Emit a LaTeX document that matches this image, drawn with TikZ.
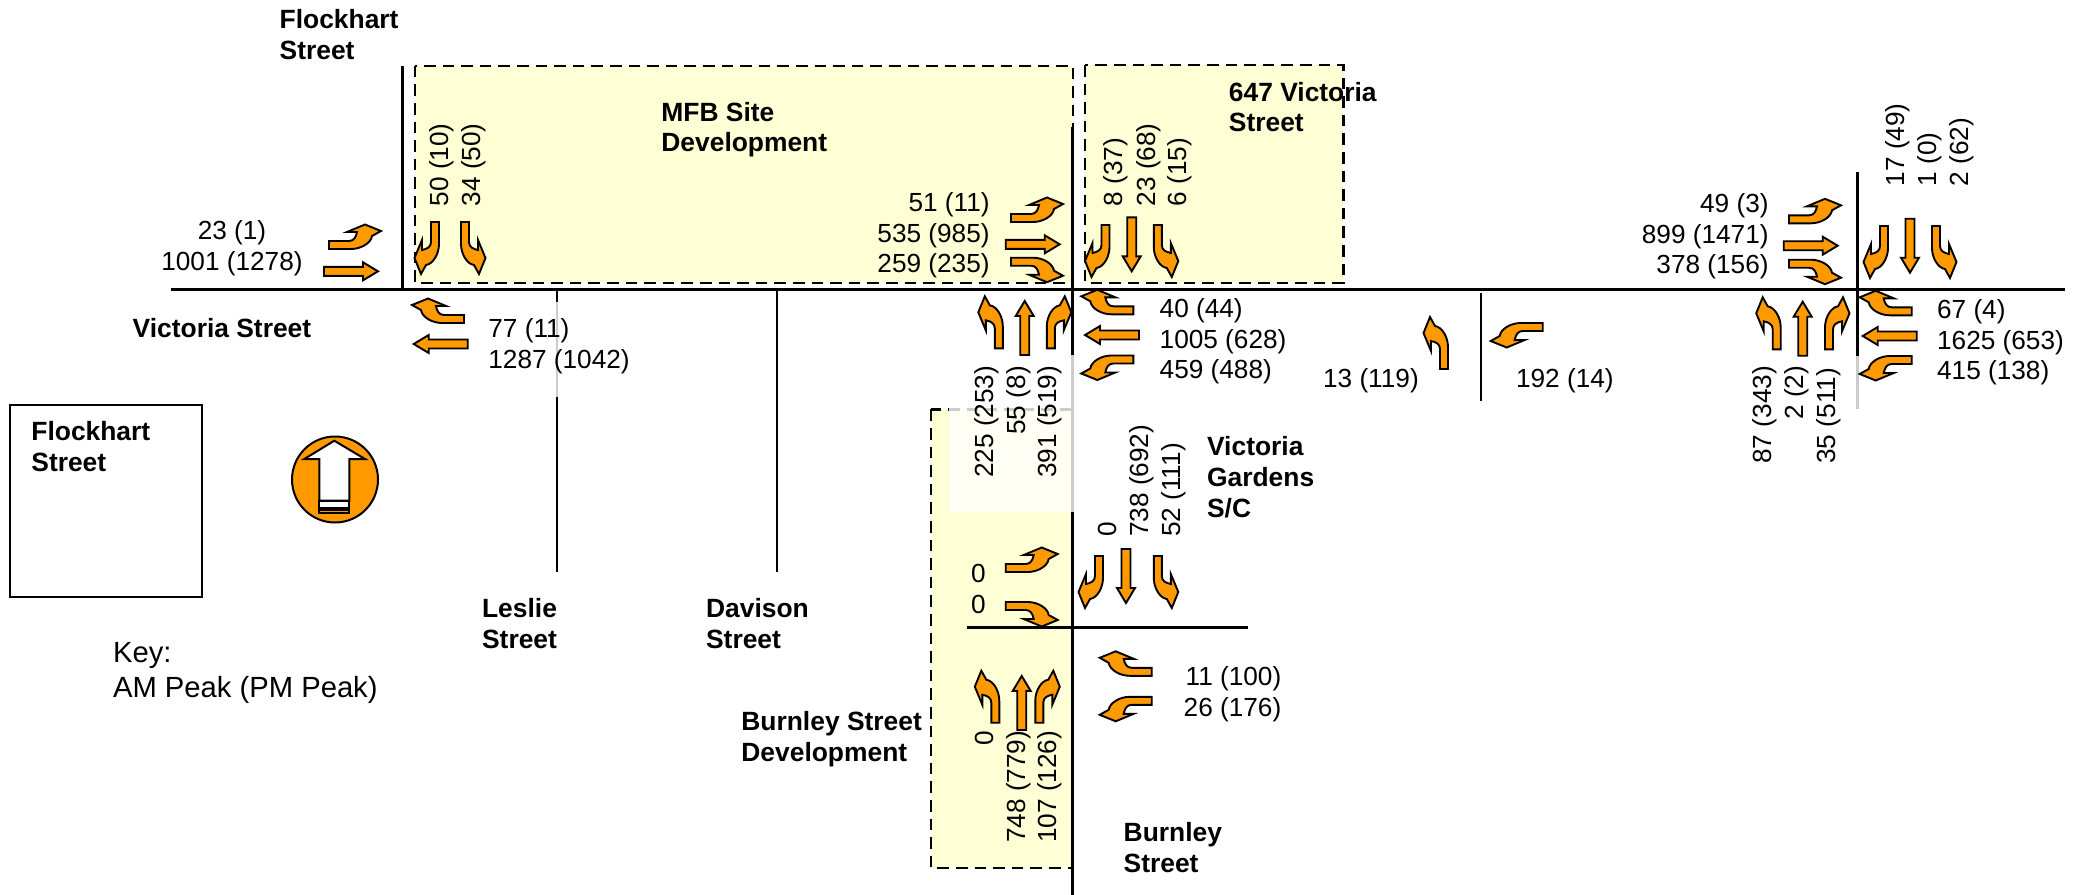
\documentclass[tikz,border=0pt]{standalone}
\usepackage{fontspec}
\setmainfont{Liberation Sans}
\definecolor{sitefill}{HTML}{FFFFD6}
\definecolor{arrowfill}{HTML}{FF9900}
\newcommand{\turnpath}{(-4,0)--(-4,20) .. controls (-4,25) and (-8,27) .. (-13,28)--(-13,18)--(-20.5,36)--(-14,52)--(-9,43) .. controls (-2,42) and (4,32) .. (4,22)--(4,0)--cycle}
\tikzset{
  turnshape/.style={draw=black,fill=arrowfill,line width=.95pt,line join=miter},
  lturn/.pic={\draw[turnshape] \turnpath;},
  rturn/.pic={\draw[turnshape,xscale=-1] \turnpath;},
  thru/.pic={\draw[turnshape] (-4.5,0)--(-4.5,39)--(-9,39)--(0,54)--(9,39)--(4.5,39)--(4.5,0)--cycle;},
  road/.style={line width=1.4pt},
  sidestreet/.style={line width=1.2pt},
  site/.style={fill=sitefill,draw=black,line width=1.2pt,dash pattern=on 5.8pt off 3.5pt},
  fade/.style={fill=white,fill opacity=.8},
  count/.style={inner sep=0pt,font=\fontsize{13.1}{15.4}\selectfont},
  upcount/.style={count,rotate=90,anchor=base west},
  streetname/.style={inner sep=0pt,anchor=north west,align=left,font=\fontsize{13.2}{15.4}\selectfont\bfseries},
}
\begin{document}
\begin{tikzpicture}[x=.5pt,y=.5pt]
  \useasboundingbox (0,0) rectangle (2085,-895);
  % development sites
  \draw[site] (414.7,-65.7) rectangle (1073,-282.7);
  \draw[site] (1085,-65) rectangle (1343.3,-282.7);
  \draw[site] (930.7,-409.3) rectangle (1072.7,-867.7);
  % roads
  \draw[road] (170.7,-289.3)--(2065,-289.3);
  \draw[road] (402.7,-66)--(402.7,-289.3);
  \draw[road] (1072.7,-126.7)--(1072.7,-895);
  \draw[road] (1857.3,-171.7)--(1857.3,-409);
  \draw[sidestreet] (556.7,-289.3)--(556.7,-571.7);
  \draw[sidestreet] (776.7,-289.3)--(776.7,-571.7);
  \draw[sidestreet] (1481,-293)--(1481,-401);
  \draw[sidestreet] (967.3,-627.3)--(1247.7,-627.3);
  \fill[fade] (949.3,-355) rectangle (1076,-511.7);
  \fill[fade] (540,-301.7) rectangle (575,-397);
  \fill[fade] (1850,-355.7) rectangle (1865,-409);

  % Flockhart intersection
  \pic[rotate=-90] at (329,-245) {lturn};
  \pic[rotate=-90] at (324,-271.3) {thru};
  \pic[rotate=90] at (464,-319) {rturn};
  \pic[rotate=90] at (467.7,-344) {thru};
  \pic[rotate=180] at (435,-222) {rturn};
  \pic[rotate=180] at (465,-222) {lturn};
  % Burnley intersection
  \pic[rotate=-90] at (1011,-218) {lturn};
  \pic[rotate=-90] at (1005.7,-244.3) {thru};
  \pic[rotate=-90] at (1011,-261.7) {rturn};
  \pic[rotate=180] at (1105.5,-225) {rturn};
  \pic[rotate=180] at (1131.7,-217.3) {thru};
  \pic[rotate=180] at (1157.8,-225) {lturn};
  \pic[rotate=90] at (1133.3,-310.3) {rturn};
  \pic[rotate=90] at (1139,-335) {thru};
  \pic[rotate=90] at (1133.3,-359.5) {lturn};
  \pic at (998.8,-348.3) {lturn};
  \pic at (1024.7,-355) {thru};
  \pic at (1050.8,-348.3) {rturn};
  % Burnley south
  \pic[rotate=-90] at (1005.7,-568) {lturn};
  \pic[rotate=-90] at (1005.7,-606) {rturn};
  \pic[rotate=180] at (1099,-556) {rturn};
  \pic[rotate=180] at (1126,-549) {thru};
  \pic[rotate=180] at (1157.8,-556) {lturn};
  \pic[rotate=90] at (1151.7,-671.8) {rturn};
  \pic[rotate=90] at (1151.7,-700.8) {lturn};
  \pic at (995.3,-722.7) {lturn};
  \pic at (1021.7,-730) {thru};
  \pic at (1039.3,-722.7) {rturn};
  % mid block
  \pic at (1444,-369) {lturn};
  \pic[rotate=90] at (1542.7,-327) {lturn};
  % east intersection
  \pic[rotate=-90] at (1789,-219.3) {lturn};
  \pic[rotate=-90] at (1783.7,-245.7) {thru};
  \pic[rotate=-90] at (1789,-263.7) {rturn};
  \pic[rotate=180] at (1884,-226) {rturn};
  \pic[rotate=180] at (1910,-218.7) {thru};
  \pic[rotate=180] at (1936,-226) {lturn};
  \pic[rotate=90] at (1911.7,-311.3) {rturn};
  \pic[rotate=90] at (1916.7,-336) {thru};
  \pic[rotate=90] at (1911.7,-360) {lturn};
  \pic at (1776.7,-349.3) {lturn};
  \pic at (1802.7,-355.7) {thru};
  \pic at (1829,-349.3) {rturn};

  % counts
  \node[count,align=center,anchor=north] (ebflock) at (232,-220) {23 (1)\\1001 (1278)};
  \node[count,align=left,anchor=north west] (wbflock) at (488,-318) {77 (11)\\1287 (1042)};
  \node[upcount] (sbflockr) at (448.3,-206.7) {50 (10)};
  \node[upcount] (sbflockl) at (480,-206.7) {34 (50)};
  \node[count,align=right,anchor=north east] (ebburn) at (990,-192) {51 (11)\\535 (985)\\259 (235)};
  \node[count,align=left,anchor=north west] (wbburn) at (1159.3,-298) {40 (44)\\1005 (628)\\459 (488)};
  \node[upcount] (sbburnr) at (1122.7,-206.7) {8 (37)};
  \node[upcount] (sbburnt) at (1155,-206.7) {23 (68)};
  \node[upcount] (sbburnl) at (1186.7,-206.7) {6 (15)};
  \node[upcount] (nbburnl) at (993.3,-478.3) {225 (253)};
  \node[upcount] (nbburnt) at (1025,-435) {55 (8)};
  \node[upcount] (nbburnr) at (1056.7,-478.3) {391 (519)};
  \node[count,align=center,anchor=north] (ebsouth) at (978.3,-564) {0\\0};
  \node[upcount] (sbsouthr) at (1116,-537.3) {0};
  \node[upcount] (sbsoutht) at (1148.3,-537.3) {738 (692)};
  \node[upcount] (sbsouthl) at (1180,-537.3) {52 (111)};
  \node[count,align=right,anchor=north east] (wbsouth) at (1281.7,-666) {11 (100)\\26 (176)};
  \node[upcount] (nbsouthl) at (993.3,-745.7) {0};
  \node[upcount] (nbsoutht) at (1025,-843.3) {748 (779)};
  \node[upcount] (nbsouthr) at (1056.7,-843.3) {107 (126)};
  \node[count,anchor=north west] (nbmid) at (1322.7,-368) {13 (119)};
  \node[count,anchor=north west] (wbmid) at (1515.7,-368) {192 (14)};
  \node[count,align=right,anchor=north east] (ebeast) at (1769,-193) {49 (3)\\899 (1471)\\378 (156)};
  \node[count,align=left,anchor=north west] (wbeast) at (1936.7,-299) {67 (4)\\1625 (653)\\415 (138)};
  \node[upcount] (sbeastr) at (1904.3,-186.7) {17 (49)};
  \node[upcount] (sbeastt) at (1936,-186.7) {1 (0)};
  \node[upcount] (sbeastl) at (1968.3,-186.7) {2 (62)};
  \node[upcount] (nbeastl) at (1771.7,-464) {87 (343)};
  \node[upcount] (nbeastt) at (1803.3,-420) {2 (2)};
  \node[upcount] (nbeastr) at (1835,-464) {35 (511)};

  % names
  \node[streetname] (flockname) at (279.3,-9) {Flockhart\\Street};
  \node[streetname] (mfbname) at (661,-101.5) {MFB Site\\Development};
  \node[streetname] (vic647) at (1228.5,-81.5) {647 Victoria\\Street};
  \node[streetname] (vicname) at (132.3,-318) {Victoria Street};
  \node[streetname] (lesliename) at (481.7,-598) {Leslie\\Street};
  \node[streetname] (davisonname) at (705.7,-598) {Davison\\Street};
  \node[streetname] (burndev) at (741,-711) {Burnley Street\\Development};
  \node[streetname] (gardens) at (1206.7,-436) {Victoria\\Gardens\\S/C};
  \node[streetname] (burnname) at (1123.3,-822) {Burnley\\Street};

  % inset and north point
  \draw[line width=1.1pt] (10,-405) rectangle (202,-596.7);
  \node[streetname] (insetname) at (31,-421) {Flockhart\\Street};
  \draw[fill=arrowfill,line width=1pt] (335,-479.5) circle (43);
  \draw[fill=white,line width=1pt] (334.3,-440.7)--(365,-459)--(349.3,-459)--(349.3,-500.7)--(319.3,-500.7)--(319.3,-459)--(304.3,-459)--cycle;
  \draw[fill=white,line width=1pt] (319.3,-500.7) rectangle (349.3,-507.5);
  \draw[fill=arrowfill,line width=1pt] (319.3,-510) rectangle (349.3,-512.5);
  \node[inner sep=0pt,anchor=north west,align=left,font=\fontsize{14.6}{17.4}\selectfont] (keytext) at (112.7,-642) {Key:\\AM Peak (PM Peak)};
\end{tikzpicture}
\end{document}
